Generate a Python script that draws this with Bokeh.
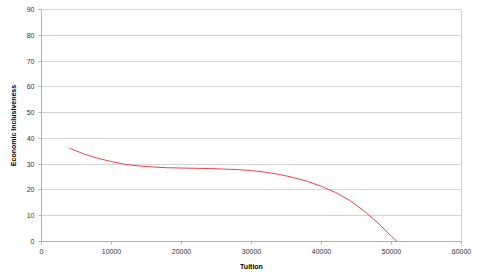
from bokeh.plotting import figure
from bokeh.models import Range1d, FixedTicker
from bokeh.embed import file_html
from bokeh.resources import INLINE

tuition = [4000, 6000, 8000, 10000, 12000, 14000, 16000, 18000, 20000, 22000, 24000,
           26000, 28000, 30000, 32000, 34000, 36000, 38000, 40000, 42000, 44000,
           46000, 48000, 50000, 50800]
inclusiveness = [36.2, 34.0, 32.3, 31.0, 29.9, 29.3, 28.9, 28.6, 28.5, 28.4, 28.3,
                 28.1, 27.9, 27.5, 26.9, 26.0, 24.8, 23.3, 21.4, 19.0, 16.0,
                 12.0, 7.4, 2.0, 0.0]
x_ticks = [0, 10000, 20000, 30000, 40000, 50000, 60000]
y_ticks = [0, 10, 20, 30, 40, 50, 60, 70, 80, 90]

p = figure(width=480, height=277, output_backend="svg", toolbar_location=None,
           x_range=Range1d(0, 60000), y_range=Range1d(0, 90),
           min_border_left=41, min_border_right=19, min_border_top=9, min_border_bottom=36)

p.line(tuition, inclusiveness, line_color="#e8424c", line_width=1)

font = "Liberation Sans"
for ax in (p.xaxis[0], p.yaxis[0]):
    ax.major_label_text_font = font
    ax.major_label_text_font_size = "7px"
    ax.major_label_text_color = "#333333"
    ax.axis_label_text_font = font
    ax.axis_label_text_font_size = "7px"
    ax.axis_label_text_font_style = "bold"
    ax.axis_label_text_color = "#000000"
    ax.axis_line_color = "#b3b3b3"
    ax.major_tick_line_color = "#b3b3b3"
    ax.major_tick_out = 3
    ax.major_tick_in = 0
    ax.minor_tick_line_color = None

p.xaxis.ticker = FixedTicker(ticks=x_ticks)
p.yaxis.ticker = FixedTicker(ticks=y_ticks)
p.xaxis.axis_label = "Tuition"
p.yaxis.axis_label = "Economic Inclusiveness"
p.xaxis.major_label_standoff = 4
p.yaxis.major_label_standoff = 4
p.xaxis.axis_label_standoff = 6
p.yaxis.axis_label_standoff = 7

p.xgrid.grid_line_color = None
p.ygrid.ticker = FixedTicker(ticks=y_ticks)
p.ygrid.grid_line_color = "#d4d4d4"
p.outline_line_color = "#d4d4d4"
p.background_fill_color = "white"
p.border_fill_color = "white"

open("out.html", "w").write(file_html(p, INLINE))
